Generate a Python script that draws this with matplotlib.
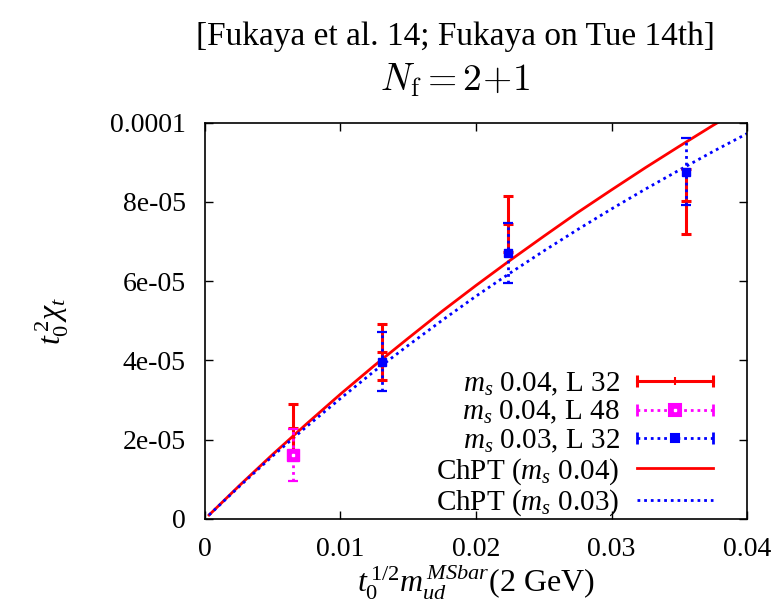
import matplotlib
matplotlib.use("Agg")
import matplotlib.pyplot as plt
from matplotlib.lines import Line2D
from matplotlib.legend_handler import HandlerBase

plt.rcParams['font.family'] = ['Liberation Serif', 'DejaVu Serif']
plt.rcParams['mathtext.fontset'] = 'custom'
plt.rcParams['mathtext.rm'] = 'Liberation Serif'
plt.rcParams['mathtext.it'] = 'Liberation Serif:italic'
plt.rcParams['mathtext.bf'] = 'Liberation Serif:bold'

# ---- data ----
# m_s 0.04, L 32
x_a = [0.00647, 0.01304, 0.02239, 0.0355]
y_a = [2.29e-05, 4.22e-05, 7.44e-05, 8.02e-05]
e_a = [0.61e-05, 0.71e-05, 0.70e-05, 0.82e-05]
# m_s 0.04, L 48
x_b = [0.00647]
y_b = [1.62e-05]
e_b = [0.66e-05]
# m_s 0.03, L 32
x_c = [0.01304, 0.02239, 0.0355]
y_c = [3.97e-05, 6.71e-05, 8.76e-05]
e_c = [0.75e-05, 0.76e-05, 0.85e-05]
# ChPT curves
x_chpt4 = [0.0003, 0.0025, 0.005, 0.0075, 0.01, 0.0125, 0.015, 0.0175, 0.02,
           0.0225, 0.025, 0.0275, 0.03, 0.0325, 0.035, 0.0375, 0.0379]
y_chpt4 = [1.0e-06, 8.3e-06, 16.3e-06, 24.0e-06, 31.5e-06, 38.7e-06, 45.6e-06,
           52.4e-06, 58.9e-06, 65.2e-06, 71.3e-06, 77.3e-06, 83.0e-06, 88.6e-06,
           94.0e-06, 99.3e-06, 100.1e-06]
x_chpt3 = [0.0003, 0.0025, 0.005, 0.0075, 0.01, 0.0125, 0.015, 0.0175, 0.02,
           0.0225, 0.025, 0.0275, 0.03, 0.0325, 0.035, 0.0375, 0.04]
y_chpt3 = [1.0e-06, 8.1e-06, 15.9e-06, 23.3e-06, 30.4e-06, 37.3e-06, 43.8e-06,
           50.1e-06, 56.2e-06, 62.0e-06, 67.6e-06, 73.0e-06, 78.2e-06, 83.2e-06,
           88.0e-06, 92.7e-06, 97.2e-06]

labels = [r'$m_s$ 0.04, L 32', r'$m_s$ 0.04, L 48', r'$m_s$ 0.03, L 32',
          r'ChPT ($m_s$ 0.04)', r'ChPT ($m_s$ 0.03)']
xticks = [0, 0.01, 0.02, 0.03, 0.04]
xticklabels = ['0', '0.01', '0.02', '0.03', '0.04']
yticks = [0, 2e-5, 4e-5, 6e-5, 8e-5, 1e-4]
yticklabels = ['0', '2e-05', '4e-05', '6e-05', '8e-05', '0.0001']

RED = '#ff0000'
MAG = '#ff00ff'
BLUE = '#0000ff'
DOT = (0, (1, 1.4))

fig = plt.figure(figsize=(7.8, 6.08), dpi=100)
ax = fig.add_axes([0.2628, 0.1464, 0.6949, 0.6521])

ax.plot(x_chpt4, y_chpt4, color=RED, lw=2.0, zorder=2)
ax.plot(x_chpt3, y_chpt3, color=BLUE, lw=2.0, ls=DOT, zorder=2)

ax.errorbar(x_a, y_a, yerr=e_a, fmt='none', ecolor=RED, elinewidth=2.2,
            capsize=3.8, capthick=2.2, zorder=3)
ax.plot(x_a, y_a, ls='none', marker='_', ms=7, mew=2.2, color=RED, zorder=3)
eb = ax.errorbar(x_b, y_b, yerr=e_b, fmt='none', ecolor=MAG, elinewidth=2.0,
                 capsize=3.8, capthick=1.6, zorder=4)
eb[2][0].set_linestyle(DOT)
ax.plot(x_b, y_b, ls='none', marker='s', ms=8, mfc=MAG, mec=MAG, zorder=4)
ax.plot(x_b, y_b, ls='none', marker='s', ms=1.8, mfc='white', mec='white', zorder=5)
ec = ax.errorbar(x_c, y_c, yerr=e_c, fmt='none', ecolor=BLUE, elinewidth=2.0,
                 capsize=3.8, capthick=1.6, zorder=4)
ec[2][0].set_linestyle(DOT)
ax.plot(x_c, y_c, ls='none', marker='s', ms=6, mfc=BLUE, mec=BLUE, zorder=5)

ax.set_xlim(0, 0.04)
ax.set_ylim(0, 1e-4)
ax.set_xticks(xticks)
ax.set_xticklabels(xticklabels)
ax.set_yticks(yticks)
ax.set_yticklabels(yticklabels)
ax.tick_params(direction='in', length=6, width=1, top=True, right=True,
               labelsize=20)
ax.tick_params(axis='x', pad=13)
ax.tick_params(axis='y', pad=14)
for s in ax.spines.values():
    s.set_linewidth(1.2)

ax.set_xlabel(r'$t_0^{\,1/2}m_{ud}^{\,MSbar}$(2 GeV)', fontsize=23, labelpad=0)
ax.set_ylabel(r'$t_0^{\,2}\chi_t$', fontsize=23, labelpad=28)


class HandlerErr(HandlerBase):
    def __init__(self, color, ls, lw, marker=None, ms=0, mfc=None, caps=True, inner=None):
        super().__init__()
        self.color, self.ls, self.lw = color, ls, lw
        self.marker, self.ms, self.mfc, self.caps, self.inner = marker, ms, mfc, caps, inner

    def create_artists(self, legend, orig_handle, xdescent, ydescent, width,
                       height, fontsize, trans):
        y = height / 2 - ydescent
        x0, x1 = -xdescent, width - xdescent
        arts = [Line2D([x0, x1], [y, y], color=self.color, ls=self.ls, lw=self.lw,
                       transform=trans)]
        if self.caps:
            arts.append(Line2D([x0, x1], [y, y], ls='none', marker='|', ms=8,
                               mew=self.lw, color=self.color, transform=trans))
        if self.marker:
            arts.append(Line2D([(x0 + x1) / 2], [y], ls='none', marker=self.marker,
                               ms=self.ms, mfc=self.mfc, mec=self.color, mew=1.5,
                               color=self.color, transform=trans))
        if self.inner:
            arts.append(Line2D([(x0 + x1) / 2], [y], ls='none', marker='s',
                               ms=1.8, mfc='white', mec='white', transform=trans))
        return arts


proxies = [Line2D([], []) for _ in labels]
hmap = {
    proxies[0]: HandlerErr(RED, '-', 2.2, marker='|', ms=6, mfc=RED),
    proxies[1]: HandlerErr(MAG, DOT, 2.0, marker='s', ms=8, mfc=MAG, inner=True),
    proxies[2]: HandlerErr(BLUE, DOT, 2.0, marker='s', ms=6, mfc=BLUE),
    proxies[3]: HandlerErr(RED, '-', 2.0, caps=False),
    proxies[4]: HandlerErr(BLUE, DOT, 2.0, caps=False),
}
leg = ax.legend(proxies, labels, handler_map=hmap, loc='lower right',
                bbox_to_anchor=(0.975, -0.050), markerfirst=False, frameon=False,
                fontsize=21, handlelength=2.6, handletextpad=0.6,
                labelspacing=0.04, borderpad=0.2)

fig.text(0.5833, 0.94, '[Fukaya et al. 14; Fukaya on Tue 14th]', ha='center',
         va='center', fontsize=24)
fig.text(0.5833, 0.868, r'$N_{\mathrm{f}} = 2\!+\!1$', ha='center', va='center',
         fontsize=27, math_fontfamily='cm')

fig.savefig('out.png', dpi=100)
